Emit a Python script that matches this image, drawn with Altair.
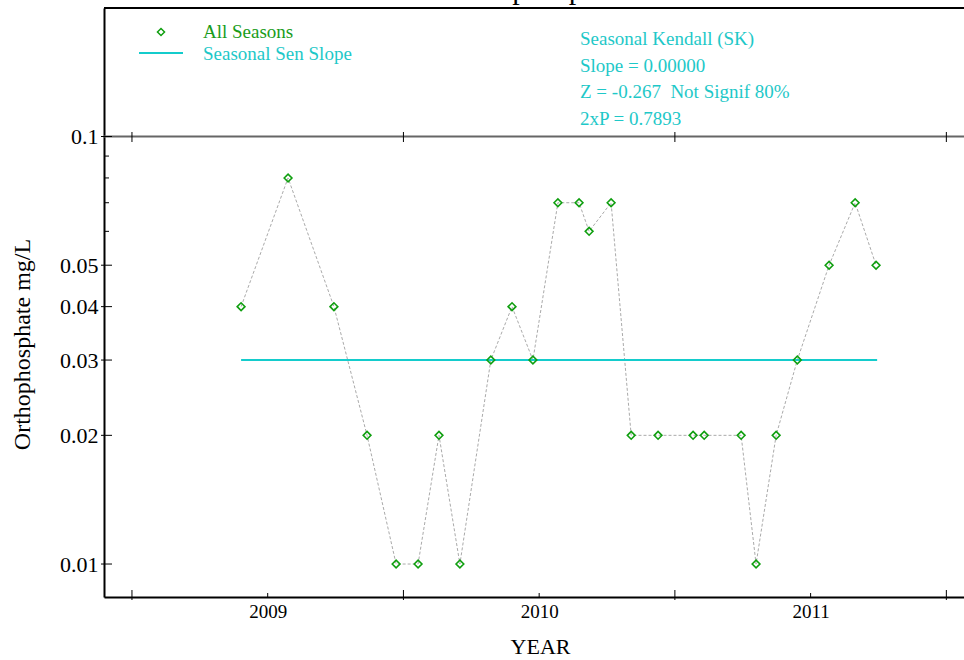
import altair as alt
import pandas as pd

# Sample dates (decimal year) and orthophosphate concentrations (mg/L)
years = [2008.902, 2009.075, 2009.244, 2009.366, 2009.473, 2009.554, 2009.631,
         2009.708, 2009.822, 2009.900, 2009.977, 2010.069, 2010.147, 2010.184,
         2010.265, 2010.339, 2010.438, 2010.567, 2010.608, 2010.744, 2010.799,
         2010.873, 2010.951, 2011.068, 2011.164, 2011.241]
values = [0.04, 0.08, 0.04, 0.02, 0.01, 0.01, 0.02, 0.01, 0.03, 0.04, 0.03,
          0.07, 0.07, 0.06, 0.07, 0.02, 0.02, 0.02, 0.02, 0.02, 0.01, 0.02,
          0.03, 0.05, 0.07, 0.05]

# Seasonal Sen slope trend line (end points)
sen_years = [2008.902, 2011.245]
sen_values = [0.03, 0.03]

# Axis tick positions
y_major = [0.01, 0.02, 0.03, 0.04, 0.05, 0.1]
y_minor = [0.06, 0.07, 0.08, 0.09]
year_labels = [2009, 2010, 2011]
year_bounds = [2008.5, 2009.5, 2010.5, 2011.5]
header_line = [0.1]

legend_labels = ["All Seasons", "Seasonal Sen Slope"]
stats_lines = ["Seasonal Kendall (SK)", "Slope = 0.00000",
               "Z = -0.267\u00a0\u00a0Not Signif 80%", "2xP = 0.7893"]
title_text = "Orthophosphate"

FONT = "Liberation Serif"
GREEN = "#109f10"
GREEN_TXT = "#1a9c1a"
CYAN = "#14cccc"
CYAN_TXT = "#1ec8c8"
W, H = 860, 589

x_scale = alt.Scale(domain=[2008.397, 2011.565], nice=False, zero=False)
y_scale = alt.Scale(type="log", domain=[0.008373, 0.1998], nice=False)

x_axis = alt.Axis(values=year_labels, format="d", ticks=False, grid=False,
                  domainColor="black", domainWidth=2, labelFont=FONT,
                  labelFontSize=19, labelColor="black", labelPadding=5,
                  labelFlush=False, title="YEAR", titleFont=FONT,
                  titleFontSize=22, titleFontWeight="normal", titleColor="black",
                  titleX=436, titleY=56, titleAlign="center",
                  titleBaseline="alphabetic")
y_axis = alt.Axis(values=y_major, format=".2~f", ticks=False, grid=False,
                  domainColor="black", domainWidth=2, labelFont=FONT,
                  labelFontSize=22, labelColor="black", labelPadding=6,
                  labelOverlap=False, title="Orthophosphate mg/L", titleFont=FONT,
                  titleFontSize=24, titleFontWeight="normal", titleColor="black",
                  titleAngle=270, titleX=-82, titleY=336, titleAlign="center",
                  titleBaseline="middle")

X = alt.X("year:Q", scale=x_scale, axis=x_axis)
Y = alt.Y("value:Q", scale=y_scale, axis=y_axis)

obs = pd.DataFrame({"year": years, "value": values})
sen = pd.DataFrame({"year": sen_years, "value": sen_values})
one = pd.DataFrame({"k": [0]})

trace = alt.Chart(obs).mark_line(color="#aaaaaa", strokeWidth=1,
                                 strokeDash=[3, 2]).encode(x=X, y=Y)
sen_line = alt.Chart(sen).mark_line(color=CYAN, strokeWidth=2).encode(x=X, y=Y)
points = alt.Chart(obs).mark_point(shape="diamond", filled=False, color=GREEN,
                                   size=60, strokeWidth=1.6, opacity=1).encode(x=X, y=Y)

# Frame lines and tick marks
top_border = alt.Chart(one).mark_rule(color="black", strokeWidth=2).encode(
    x=alt.value(0), x2=alt.value(W), y=alt.value(0))
header = alt.Chart(pd.DataFrame({"value": header_line})).mark_rule(
    color="#666666", strokeWidth=2).encode(y=Y, x=alt.value(0), x2=alt.value(W))
ymaj = alt.Chart(pd.DataFrame({"value": y_major})).mark_rule(
    color="black", strokeWidth=1).encode(y=Y, x=alt.value(-3), x2=alt.value(8))
ymin = alt.Chart(pd.DataFrame({"value": y_minor})).mark_rule(
    color="black", strokeWidth=1).encode(y=Y, x=alt.value(0), x2=alt.value(5))
bounds_df = pd.DataFrame({"year": year_bounds})
xb_bottom = alt.Chart(bounds_df).mark_rule(color="black", strokeWidth=1).encode(
    x=X, y=alt.value(H - 7), y2=alt.value(H + 3))
xb_header = alt.Chart(bounds_df).mark_rule(color="black", strokeWidth=1).encode(
    x=X, y=alt.value(124), y2=alt.value(134))
xl_ticks = alt.Chart(pd.DataFrame({"year": year_labels})).mark_rule(
    color="black", strokeWidth=1).encode(x=X, y=alt.value(H - 4), y2=alt.value(H))

# Legend
leg_sym = alt.Chart(one).mark_point(shape="diamond", filled=False, color=GREEN,
                                    size=50, strokeWidth=1.5, opacity=1).encode(
    x=alt.value(57), y=alt.value(24))
leg_line = alt.Chart(one).mark_rule(color=CYAN, strokeWidth=2).encode(
    x=alt.value(35), x2=alt.value(79), y=alt.value(45))
leg_t1 = alt.Chart(one).mark_text(align="left", baseline="alphabetic", font=FONT,
                                  fontSize=19, color=GREEN_TXT).encode(
    x=alt.value(99), y=alt.value(30), text=alt.value(legend_labels[0]))
leg_t2 = alt.Chart(one).mark_text(align="left", baseline="alphabetic", font=FONT,
                                  fontSize=19, color=CYAN_TXT).encode(
    x=alt.value(99), y=alt.value(52), text=alt.value(legend_labels[1]))

# Trend test results
stats = alt.Chart(one).mark_text(align="left", baseline="alphabetic", font=FONT,
                                 fontSize=19, color=CYAN_TXT, lineBreak="\n",
                                 lineHeight=26.7).encode(
    x=alt.value(476), y=alt.value(37), text=alt.value("\n".join(stats_lines)))

title = alt.Chart(one).mark_text(align="center", baseline="alphabetic", font=FONT,
                                 fontSize=30, color="black").encode(
    x=alt.value(434), y=alt.value(-9.5), text=alt.value(title_text))

chart = alt.layer(
    trace, sen_line, points, top_border, header, ymaj, ymin,
    xb_bottom, xb_header, xl_ticks, leg_sym, leg_line, leg_t1, leg_t2,
    stats, title,
).properties(
    width=W, height=H,
    autosize=alt.AutoSizeParams(type="none"),
    padding={"left": 104, "top": 8, "right": 0, "bottom": 63},
).configure_view(stroke=None).configure(background="white")

chart.save("out.html", embed_options={"renderer": "svg", "actions": False})
